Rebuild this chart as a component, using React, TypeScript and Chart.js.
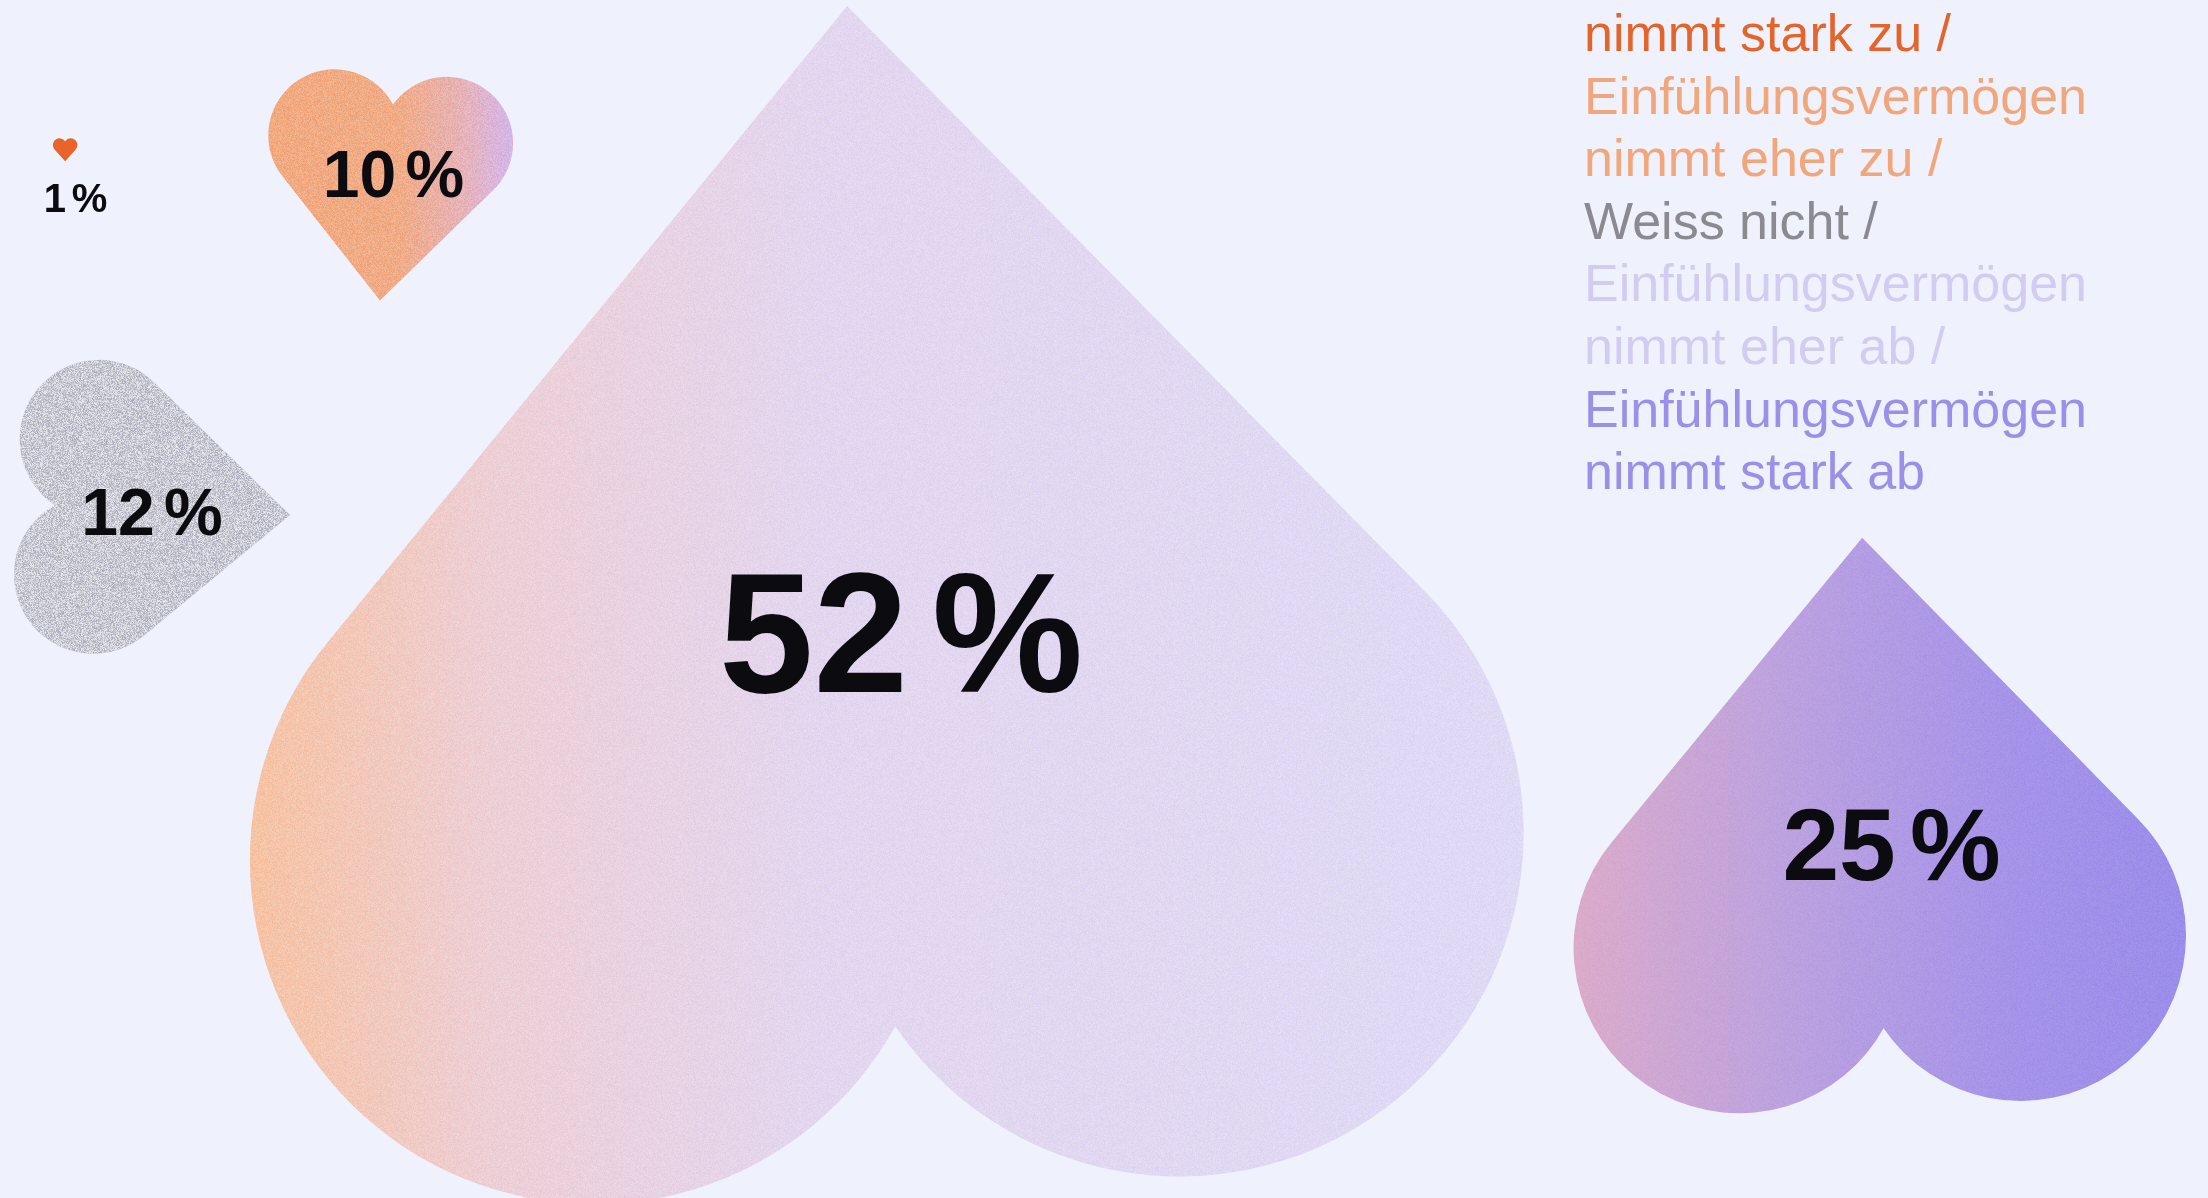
import React, { useEffect, useRef } from "react";
import { Chart, registerables } from "chart.js";

Chart.register(...registerables);

// ---------- data ----------
const categories = [
  "Einfühlungsvermögen nimmt stark zu",
  "Einfühlungsvermögen nimmt eher zu",
  "Weiss nicht",
  "Einfühlungsvermögen nimmt eher ab",
  "Einfühlungsvermögen nimmt stark ab",
];
const values = [1, 10, 12, 52, 25];

// ---------- layout (chart units: x 0–100 left→right, y 0–100 top→bottom) ----------
const heartX = [2.95, 17.55, 6.95, 39.63, 84.9];
const heartY = [12.5, 15.6, 42.51, 49.92, 68.64];
const heartRotationDeg = [0, 3.8, -87.6, 177.3, 177.5];
const labelX = [3.42, 17.82, 6.88, 40.81, 85.67];
const labelY = [16.49, 14.48, 42.7, 52.71, 70.41];
const labelFontPx = [40, 66, 66, 170, 102];
const widthPerPercent = 1.11; // x-axis units of heart width per percent
const legendX = 71.74;
const legendFirstBaselineY = -0.97;
const legendLineHeightPx = 62.6;
const legendFontPx = 52;

// ---------- styles ----------
const background = "#eff1fc";
const legendColors = ["#e3652b", "#f2a67b", "#8a8a90", "#d2ccf2", "#9b8fe7"];
const heartStops: [number, string][][] = [
  [[0, "#e8642a"], [1, "#e8642a"]],
  [[0, "#f2aa80"], [0.55, "#f0ac87"], [0.82, "#e6b3bb"], [1, "#d4b6e8"]],
  [[0, "#cacbd4"], [1, "#c8c9d3"]],
  [[0, "#f7c2a0"], [0.2, "#edcfd6"], [0.45, "#e3d6ef"], [1, "#dfdaf5"]],
  [[0, "#dcabc9"], [0.35, "#bca2df"], [0.7, "#a694e8"], [1, "#9b8dea"]],
];
const grainAlpha = [0, 0.16, 0.6, 0.16, 0.05];

function makeNoise(size: number, seed: number): HTMLCanvasElement {
  const c = document.createElement("canvas");
  c.width = size;
  c.height = size;
  const g = c.getContext("2d")!;
  const img = g.createImageData(size, size);
  let s = seed >>> 0;
  const rnd = () => {
    s = (s + 0x6d2b79f5) >>> 0;
    let t = s;
    t = Math.imul(t ^ (t >>> 15), t | 1);
    t ^= t + Math.imul(t ^ (t >>> 7), t | 61);
    return ((t ^ (t >>> 14)) >>> 0) / 4294967296;
  };
  for (let i = 0; i < size * size; i++) {
    const v = Math.floor(rnd() * 255);
    img.data[i * 4] = v;
    img.data[i * 4 + 1] = v;
    img.data[i * 4 + 2] = v;
    img.data[i * 4 + 3] = 255;
  }
  g.putImageData(img, 0, 0);
  return c;
}

function heartPath(ctx: CanvasRenderingContext2D, W: number) {
  const H = 0.93 * W;
  const r = 0.27 * W;
  const cx = 0.23 * W;
  const cy = -H / 2 + r;
  const tipY = H / 2;
  const vx = -cx;
  const vy = tipY - cy;
  const L = Math.hypot(vx, vy);
  const phi = Math.atan2(vy, vx);
  const a = Math.acos(r / L);
  const tR = phi - a;
  const tL = Math.PI - tR;
  const dy = Math.sqrt(r * r - cx * cx);
  const cleftR = Math.atan2(-dy, -cx);
  const cleftL = Math.atan2(-dy, cx);
  ctx.beginPath();
  ctx.moveTo(0, tipY);
  ctx.lineTo(cx + r * Math.cos(tR), cy + r * Math.sin(tR));
  ctx.arc(cx, cy, r, tR, cleftR, true);
  ctx.arc(-cx, cy, r, cleftL, tL, true);
  ctx.closePath();
}

function legendLines(): { text: string; color: string }[] {
  const out: { text: string; color: string }[] = [];
  categories.forEach((label, i) => {
    const parts = label.replace(" nimmt", "\nnimmt").split("\n");
    parts.forEach((p, j) => {
      const last = j === parts.length - 1;
      out.push({ text: last && i < categories.length - 1 ? p + " /" : p, color: legendColors[i] });
    });
  });
  return out;
}

export default function App() {
  const ref = useRef<HTMLCanvasElement | null>(null);

  useEffect(() => {
    if (!ref.current) return;
    const noise = makeNoise(256, 12345);

    const bgPlugin = {
      id: "bg",
      beforeDraw(chart: any) {
        const c = chart.ctx;
        c.save();
        c.fillStyle = background;
        c.fillRect(0, 0, chart.width, chart.height);
        c.restore();
      },
    };

    const heartsPlugin = {
      id: "hearts",
      afterDatasetsDraw(chart: any) {
        const c: CanvasRenderingContext2D = chart.ctx;
        const xs = chart.scales.x;
        const ys = chart.scales.y;
        const meta = chart.getDatasetMeta(0);
        const pattern = c.createPattern(noise, "repeat");
        meta.data.forEach((el: any, i: number) => {
          const { x, y } = el.getProps(["x", "y"], true);
          const W = Math.abs(xs.getPixelForValue(values[i] * widthPerPercent) - xs.getPixelForValue(0));
          c.save();
          c.translate(x, y);
          c.rotate((heartRotationDeg[i] * Math.PI) / 180);
          heartPath(c, W);
          c.restore();
          const grad = c.createLinearGradient(x - W / 2, 0, x + W / 2, 0);
          heartStops[i].forEach(([o, col]) => grad.addColorStop(o, col));
          c.save();
          c.fillStyle = grad;
          c.fill();
          if (grainAlpha[i] > 0 && pattern) {
            c.clip();
            c.globalAlpha = grainAlpha[i];
            c.globalCompositeOperation = "overlay";
            c.fillStyle = pattern;
            c.fillRect(x - W, y - W, 2 * W, 2 * W);
          }
          c.restore();
        });

        // value labels
        values.forEach((v, i) => {
          const px = labelFontPx[i];
          c.save();
          c.font = `bold ${px}px "Liberation Sans", Arial, sans-serif`;
          c.fillStyle = "#0c0b10";
          c.textBaseline = "alphabetic";
          c.textAlign = "left";
          const num = String(v);
          const wn = c.measureText(num).width;
          const wp = c.measureText("%").width;
          const gap = 0.14 * px;
          const total = wn + gap + wp;
          const lx = xs.getPixelForValue(labelX[i]);
          const ly = ys.getPixelForValue(labelY[i]) + (0.716 * px) / 2;
          c.fillText(num, lx - total / 2, ly);
          c.fillText("%", lx - total / 2 + wn + gap, ly);
          c.restore();
        });

        // legend
        const lines = legendLines();
        const lx = xs.getPixelForValue(legendX);
        const ly0 = ys.getPixelForValue(legendFirstBaselineY);
        c.save();
        c.font = `${legendFontPx}px "Liberation Sans", Arial, sans-serif`;
        c.textBaseline = "alphabetic";
        c.textAlign = "left";
        lines.forEach((ln, k) => {
          c.fillStyle = ln.color;
          c.fillText(ln.text, lx, ly0 + k * legendLineHeightPx);
        });
        c.restore();
      },
    };

    const chart = new Chart(ref.current, {
      type: "scatter",
      data: {
        labels: categories,
        datasets: [
          {
            label: "Anteil",
            data: values.map((_, i) => ({ x: heartX[i], y: heartY[i] })),
            pointRadius: 0,
            pointHoverRadius: 0,
            showLine: false,
          },
        ],
      },
      options: {
        responsive: false,
        maintainAspectRatio: false,
        animation: false,
        devicePixelRatio: 1,
        events: [],
        layout: { padding: 0 },
        plugins: { legend: { display: false }, tooltip: { enabled: false } },
        scales: {
          x: { type: "linear", min: 0, max: 100, display: false },
          y: { type: "linear", min: 0, max: 100, reverse: true, display: false },
        },
      },
      plugins: [bgPlugin, heartsPlugin],
    });
    return () => chart.destroy();
  }, []);

  return (
    <div style={{ position: "absolute", left: 0, top: 0, width: 2208, height: 1198, overflow: "hidden", background }}>
      <canvas ref={ref} width={2208} height={1198} style={{ display: "block" }} />
    </div>
  );
}
